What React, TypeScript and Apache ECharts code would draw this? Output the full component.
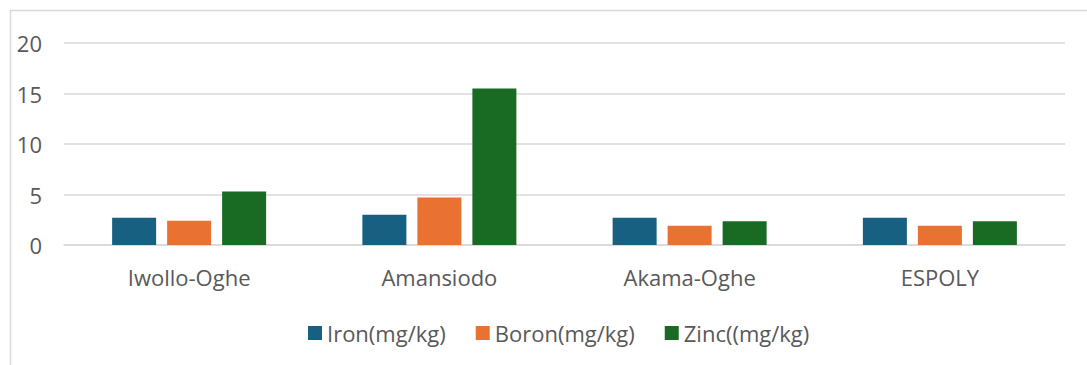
import React, { useEffect, useRef } from "react";
import * as echarts from "echarts";

const categories = ["Iwollo-Oghe", "Amansiodo", "Akama-Oghe", "ESPOLY"];
const ironValues = [2.7, 3.0, 2.7, 2.7];
const boronValues = [2.4, 4.7, 1.9, 1.9];
const zincValues = [5.3, 15.5, 2.35, 2.35];
const seriesNames = ["Iron(mg/kg)", "Boron(mg/kg)", "Zinc((mg/kg)"];
const colors = ["#176082", "#E97132", "#196B24"];

const FONT = "'Open Sans', 'Noto Sans', sans-serif";

export default function App() {
  const ref = useRef<HTMLDivElement>(null);
  useEffect(() => {
    if (!ref.current) return;
    const chart = echarts.init(ref.current, null, { renderer: "svg" });
    const mk = (name: string, data: number[], color: string) => ({
      name,
      type: "bar",
      data,
      barWidth: 44,
      barGap: "25%",
      itemStyle: { color },
    });
    chart.setOption({
      animation: false,
      textStyle: { fontFamily: FONT },
      graphic: [
        {
          type: "polyline",
          shape: { points: [[10.5, 366], [10.5, 10.5], [1088, 10.5]] },
          style: { stroke: "#D9D9D9", lineWidth: 1.5, fill: "none" },
        },
      ],
      grid: { left: 64, right: 22, top: 43, bottom: 120, containLabel: false },
      legend: {
        top: 317,
        left: 303,
        itemWidth: 14,
        itemHeight: 14,
        itemGap: 30,
        icon: "rect",
        textStyle: { fontSize: 22, color: "#595959", fontFamily: FONT },
        data: seriesNames,
      },
      xAxis: {
        type: "category",
        data: categories,
        axisLine: { show: true, lineStyle: { color: "#D9D9D9", width: 1.5 } },
        axisTick: { show: false },
        axisLabel: { fontSize: 22, color: "#595959", margin: 21, fontFamily: FONT },
      },
      yAxis: {
        type: "value",
        min: 0,
        max: 20,
        interval: 5,
        axisLine: { show: false },
        axisTick: { show: false },
        splitLine: { lineStyle: { color: "#D9D9D9", width: 1.5 } },
        axisLabel: { fontSize: 22, color: "#595959", margin: 22, fontFamily: FONT },
      },
      series: [
        mk(seriesNames[0], ironValues, colors[0]),
        mk(seriesNames[1], boronValues, colors[1]),
        mk(seriesNames[2], zincValues, colors[2]),
      ],
    });
    return () => chart.dispose();
  }, []);
  return (
    <div
      ref={ref}
      style={{ position: "fixed", left: 0, top: 0, width: 1087, height: 365, background: "#fff" }}
    />
  );
}
